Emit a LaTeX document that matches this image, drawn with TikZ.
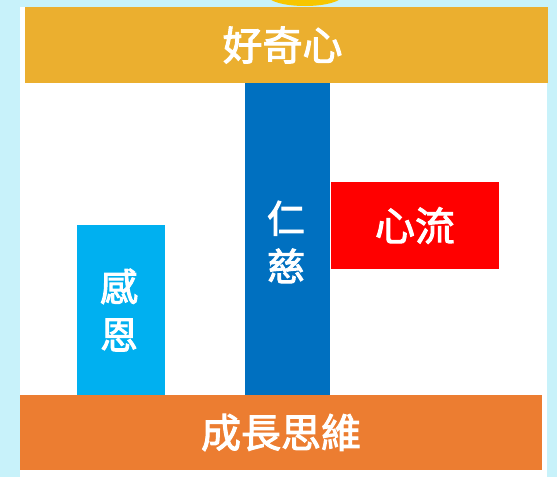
\documentclass[tikz,border=0pt]{standalone}
\usepackage{fontspec}
\newfontfamily\cjk[FakeBold=2.5]{Noto Sans CJK TC}
\definecolor{bgcyan}{HTML}{C8F2FA}
\definecolor{gold}{HTML}{EBAF2F}
\definecolor{orangebar}{HTML}{EC7D31}
\definecolor{lightbluebar}{HTML}{00B0F0}
\definecolor{darkbluebar}{HTML}{0070C0}
\definecolor{redbar}{HTML}{FF0000}
\definecolor{sunyellow}{HTML}{F7C600}
\tikzset{
  block/.style={draw=none, inner sep=0pt, outer sep=0pt, text=white, align=center},
  hlabel/.style={font=\cjk\fontsize{40}{48}\selectfont},
  vlabel/.style={font=\cjk\fontsize{38}{48}\selectfont},
}
\begin{document}
\begin{tikzpicture}[x=1pt,y=-1pt]
\useasboundingbox (0,0) rectangle (557,477);
\fill[bgcyan] (0,0) rectangle (557,477);
\fill[sunyellow] (305,-5) ellipse (38 and 11);
\fill[white] (20,7) rectangle (547,477);
\node[block, fill=gold, minimum width=523pt, minimum height=76pt, hlabel] (curiosity) at (286.5,45) {\hspace*{-8pt}好奇心};
\node[block, fill=darkbluebar, minimum width=85pt, minimum height=312pt, vlabel] (kindness) at (287.5,239) {};
\node[block, vlabel] (kindnesstext) at (286,242) {仁\\慈};
\node[block, fill=lightbluebar, minimum width=88pt, minimum height=170pt] (gratitude) at (121,310) {};
\node[block, vlabel] (gratitudetext) at (119,310) {感\\恩};
\node[block, fill=redbar, minimum width=168pt, minimum height=87pt, hlabel] (flow) at (415,225.5) {心流};
\node[block, fill=orangebar, minimum width=522pt, minimum height=75pt, hlabel] (growth) at (281,432.5) {成長思維};
\end{tikzpicture}
\end{document}
